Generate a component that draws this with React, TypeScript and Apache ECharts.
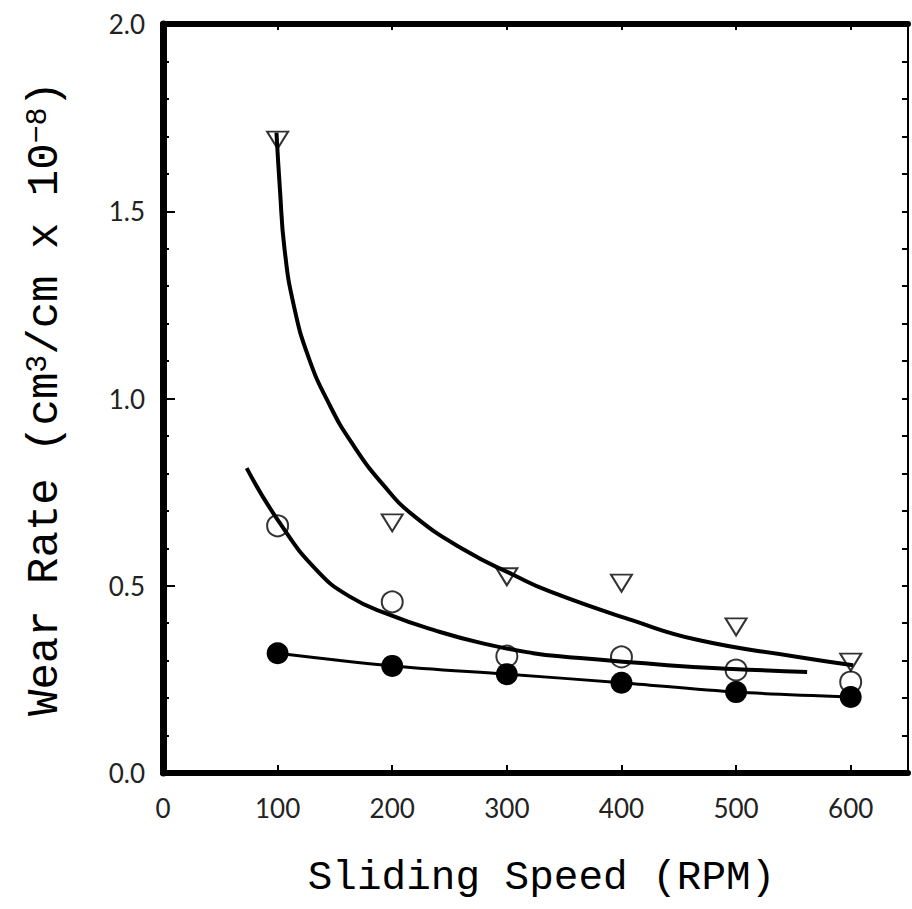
import React, { useEffect, useRef } from "react";
import * as echarts from "echarts";

// Measured data points (RPM vs wear rate)
const speeds = [100, 200, 300, 400, 500, 600];
const triangleRates = [1.69, 0.668, 0.524, 0.507, 0.39, 0.296];
const openRates = [0.66, 0.457, 0.312, 0.31, 0.275, 0.243];
const filledRates = [0.32, 0.286, 0.264, 0.241, 0.216, 0.203];

// Fitted curves
const triangleFitX = [99, 102, 106, 114, 127, 145, 165, 192, 220, 265, 305, 338, 409, 467, 554, 602];
const triangleFitY = [1.71, 1.56, 1.4, 1.25, 1.11, 0.985, 0.88, 0.77, 0.684, 0.592, 0.53, 0.484, 0.408, 0.355, 0.31, 0.288];
const openFitX = [73, 102, 134, 163, 198, 236, 279, 323, 352, 440, 497, 562];
const openFitY = [0.814, 0.667, 0.542, 0.471, 0.422, 0.382, 0.346, 0.32, 0.31, 0.288, 0.278, 0.27];

const xTickLabels = ["0", "100", "200", "300", "400", "500", "600"];

const TITLE_FONT = "'Liberation Mono', 'DejaVu Sans Mono', monospace";
const TICK_FONT = "Lato, 'Open Sans', sans-serif";

export default function App() {
  const ref = useRef<HTMLDivElement>(null);

  useEffect(() => {
    if (!ref.current) return;
    const chart = echarts.init(ref.current, undefined, { renderer: "svg" });

    const pairs = (xs: number[], ys: number[]) => xs.map((x, i) => [x, ys[i]]);

    const option: any = {
      animation: false,
      backgroundColor: "#fff",
      grid: { left: 163, right: 4, top: 24, bottom: 136, containLabel: false },
      xAxis: [
        {
          type: "value",
          position: "bottom",
          min: 0,
          max: 650,
          interval: 100,
          axisLine: { show: true, onZero: false, lineStyle: { color: "#000", width: 6 } },
          axisTick: { show: true, inside: true, length: 8, lineStyle: { color: "#000", width: 2 } },
          axisLabel: {
            margin: 22,
            fontSize: 26,
            color: "#222",
            fontFamily: TICK_FONT,
            showMaxLabel: false,
            formatter: (v: number) => {
              const i = Math.round(v / 100);
              return v % 100 === 0 && i < xTickLabels.length ? xTickLabels[i] : "";
            },
          },
          splitLine: { show: false },
          name: "Sliding Speed (RPM)",
          nameLocation: "middle",
          nameGap: 84,
          nameTextStyle: { fontFamily: TITLE_FONT, fontSize: 41, color: "#000", padding: [0, 0, 0, 12] },
        },
        {
          type: "value",
          position: "top",
          min: 0,
          max: 650,
          interval: 100,
          axisLine: { show: true, onZero: false, lineStyle: { color: "#000", width: 6 } },
          axisTick: { show: true, inside: true, length: 6, lineStyle: { color: "#000", width: 2 } },
          axisLabel: { show: false },
          splitLine: { show: false },
        },
      ],
      yAxis: [
        {
          type: "value",
          position: "left",
          min: 0,
          max: 2,
          interval: 0.5,
          axisLine: { show: true, onZero: false, lineStyle: { color: "#000", width: 7 } },
          axisTick: { show: true, inside: true, length: 12, lineStyle: { color: "#000", width: 2 } },
          minorTick: { show: true, splitNumber: 5, length: 6, lineStyle: { color: "#000", width: 2 } },
          axisLabel: {
            margin: 18,
            fontSize: 26,
            color: "#222",
            fontFamily: TICK_FONT,
            formatter: (v: number) => v.toFixed(1),
          },
          splitLine: { show: false },
          minorSplitLine: { show: false },
          name: "Wear Rate (cm{sup|3}/cm x 10{sup|−8})",
          nameLocation: "middle",
          nameRotate: 90,
          nameGap: 96,
          nameTextStyle: {
            fontFamily: TITLE_FONT,
            fontSize: 44,
            color: "#000",
            rich: {
              sup: { fontFamily: TITLE_FONT, fontSize: 30, color: "#000", verticalAlign: "top" },
            },
          },
        },
        {
          type: "value",
          position: "right",
          min: 0,
          max: 2,
          interval: 0.1,
          axisLine: { show: true, onZero: false, lineStyle: { color: "#000", width: 2 } },
          axisTick: { show: true, inside: true, length: 6, lineStyle: { color: "#000", width: 2 } },
          axisLabel: { show: false },
          splitLine: { show: false },
        },
      ],
      series: [
        {
          type: "line",
          xAxisIndex: 0,
          yAxisIndex: 0,
          data: pairs(triangleFitX, triangleFitY),
          showSymbol: false,
          smooth: 0.5,
          lineStyle: { color: "#000", width: 4 },
          silent: true,
          z: 2,
        },
        {
          type: "line",
          xAxisIndex: 0,
          yAxisIndex: 0,
          data: pairs(openFitX, openFitY),
          showSymbol: false,
          smooth: 0.5,
          lineStyle: { color: "#000", width: 4 },
          silent: true,
          z: 2,
        },
        {
          type: "line",
          xAxisIndex: 0,
          yAxisIndex: 0,
          data: pairs(speeds, filledRates),
          symbol: "circle",
          symbolSize: 22,
          showSymbol: true,
          smooth: 0.3,
          lineStyle: { color: "#000", width: 3 },
          itemStyle: { color: "#000" },
          z: 3,
        },
        {
          type: "scatter",
          xAxisIndex: 0,
          yAxisIndex: 0,
          data: pairs(speeds, openRates),
          symbol: "circle",
          symbolSize: 21,
          itemStyle: { color: "rgba(0,0,0,0)", borderColor: "#000", borderWidth: 2 },
          z: 4,
        },
        {
          type: "scatter",
          xAxisIndex: 0,
          yAxisIndex: 0,
          data: pairs(speeds, triangleRates),
          symbol: "triangle",
          symbolRotate: 180,
          symbolSize: [21, 17],
          itemStyle: { color: "rgba(0,0,0,0)", borderColor: "#000", borderWidth: 2 },
          z: 4,
        },
      ],
    };

    chart.setOption(option);
    return () => chart.dispose();
  }, []);

  return (
    <div
      ref={ref}
      style={{ position: "fixed", left: 0, top: 0, width: 912, height: 909, background: "#fff" }}
    />
  );
}
